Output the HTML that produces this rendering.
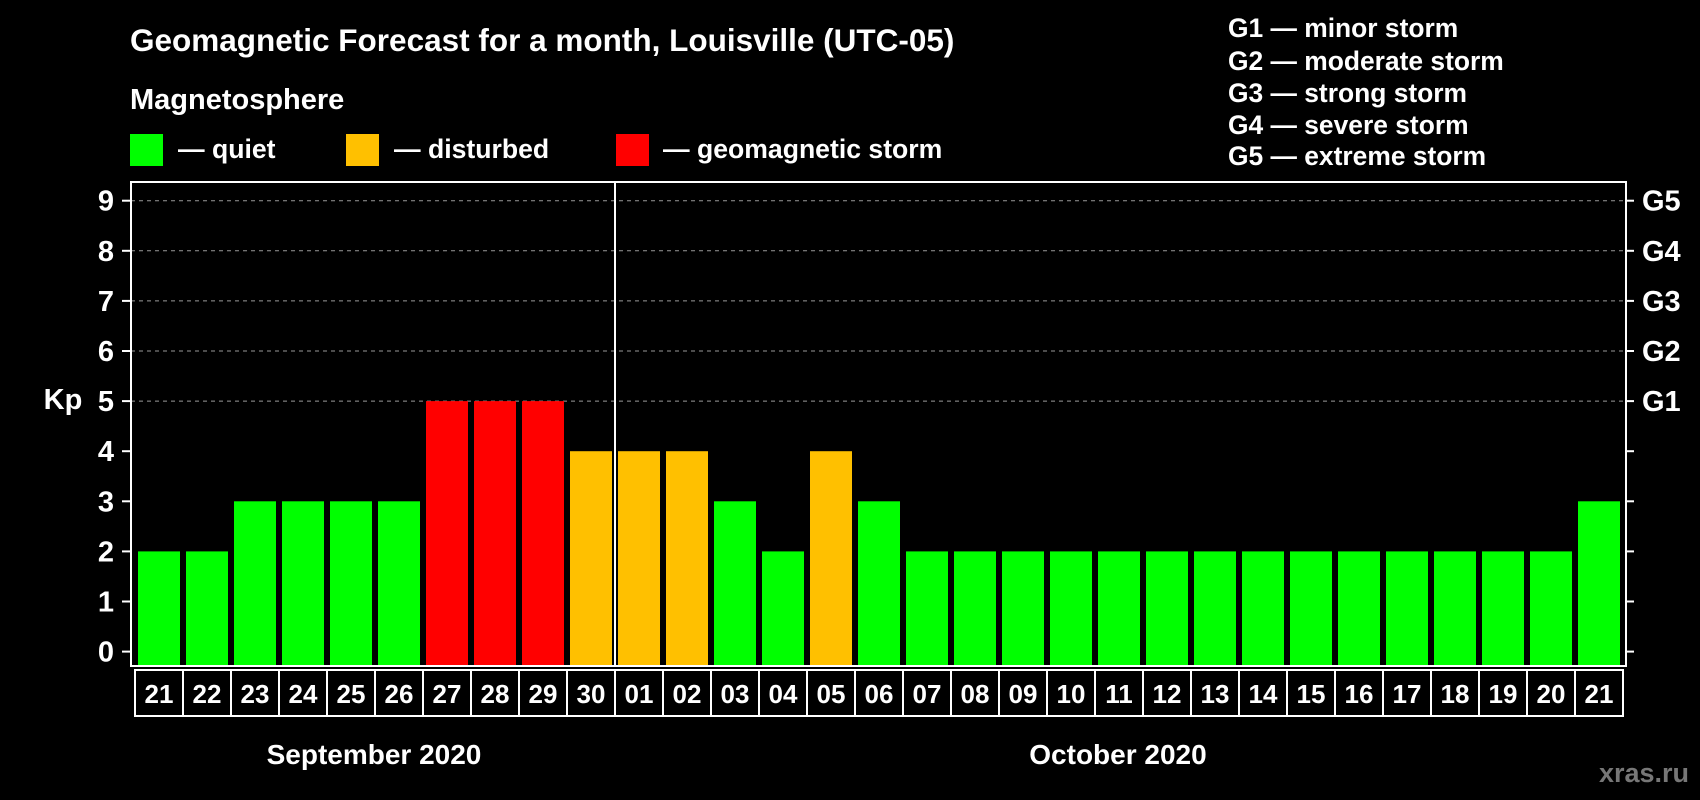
<!DOCTYPE html>
<html><head><meta charset="utf-8"><style>
html,body{margin:0;padding:0;background:#000;width:1700px;height:800px;overflow:hidden}
svg{display:block;font-family:"Liberation Sans",Arial,sans-serif;font-weight:bold}
</style></head><body>
<svg id="chart" width="1700" height="800" viewBox="0 0 1700 800">
<rect width="1700" height="800" fill="#000"/>
<text x="130" y="51" fill="#fff" font-size="31.5">Geomagnetic Forecast for a month, Louisville (UTC-05)</text>
<text x="130" y="109" fill="#fff" font-size="29">Magnetosphere</text>
<g><rect x="130" y="134" width="33" height="32" fill="#00ff00"/><text x="178" y="158" fill="#fff" font-size="26.6">— quiet</text></g>
<g><rect x="346" y="134" width="33" height="32" fill="#ffc000"/><text x="394" y="158" fill="#fff" font-size="26.6">— disturbed</text></g>
<g><rect x="616" y="134" width="33" height="32" fill="#ff0000"/><text x="663" y="158" fill="#fff" font-size="26.6">— geomagnetic storm</text></g>
<g fill="#fff" font-size="26.4">
<text x="1228" y="37">G1 — minor storm</text>
<text x="1228" y="70">G2 — moderate storm</text>
<text x="1228" y="102">G3 — strong storm</text>
<text x="1228" y="134">G4 — severe storm</text>
<text x="1228" y="165">G5 — extreme storm</text>
</g>
<g id="grid"></g><g id="bars"></g><g id="axes"></g>
<text x="63" y="409" fill="#fff" font-size="29" text-anchor="middle">Kp</text>
<text x="374" y="764" fill="#fff" font-size="28" text-anchor="middle">September 2020</text>
<text x="1118" y="764" fill="#fff" font-size="28" text-anchor="middle">October 2020</text>
<text x="1689" y="782" fill="#777" font-size="27" text-anchor="end">xras.ru</text>
</svg>
<script>
const days=["21","22","23","24","25","26","27","28","29","30","01","02","03","04","05","06","07","08","09","10","11","12","13","14","15","16","17","18","19","20","21"];
const kp=[2,2,3,3,3,3,5,5,5,4,4,4,3,2,4,3,2,2,2,2,2,2,2,2,2,2,2,2,2,2,3];
const yTicks=[0,1,2,3,4,5,6,7,8,9];
const gLabels=["G1","G2","G3","G4","G5"];
const gLevels=[5,6,7,8,9];
const NS="http://www.w3.org/2000/svg";
const L=131,R=1626,T=182,B=666,X0=135,PITCH=48,BW=42;
const y=v=>651.6-v*50.1;
const x=i=>X0+i*PITCH;
function mk(tag,attrs,parent){const e=document.createElementNS(NS,tag);for(const k in attrs)e.setAttribute(k,attrs[k]);parent.appendChild(e);return e;}
const grid=document.getElementById('grid'),bars=document.getElementById('bars'),axes=document.getElementById('axes');
gLevels.forEach((v,i)=>{
 const ln=mk('line',{x1:L,x2:R,y1:y(v),y2:y(v),stroke:'#999','stroke-width':1,'stroke-dasharray':'4 4'},grid);
 
 
 const t=mk('text',{x:1642,y:y(v)+10,fill:'#fff','font-size':29},axes);t.textContent=gLabels[i];
 
 
});
kp.forEach((v,i)=>{
 const c=v>=5?'#ff0000':(v>=4?'#ffc000':'#00ff00');
 const r=mk('rect',{x:x(i)+3,y:y(v),width:BW,height:B-y(v),fill:c},bars);
 
 
 const bx=mk('rect',{x:x(i),y:670,width:PITCH,height:46,fill:'none',stroke:'#fff','stroke-width':2},axes);
 
 
 const t=mk('text',{x:x(i)+PITCH/2,y:703,fill:'#fff','font-size':26,'text-anchor':'middle'},axes);t.textContent=days[i];
 
 
});
const fr=mk('rect',{x:L,y:T,width:R-L,height:B-T,fill:'none',stroke:'#fff','stroke-width':2},axes);


const dv=mk('line',{x1:x(10),x2:x(10),y1:T,y2:B,stroke:'#fff','stroke-width':2},axes);


yTicks.forEach(v=>{
 mk('line',{x1:122,x2:L,y1:y(v),y2:y(v),stroke:'#fff','stroke-width':2},axes);
 mk('line',{x1:R,x2:1634,y1:y(v),y2:y(v),stroke:'#fff','stroke-width':2},axes);
 const t=mk('text',{x:114,y:y(v)+10,fill:'#fff','font-size':29,'text-anchor':'end'},axes);t.textContent=v;
 
 
});
</script>
</body></html>
